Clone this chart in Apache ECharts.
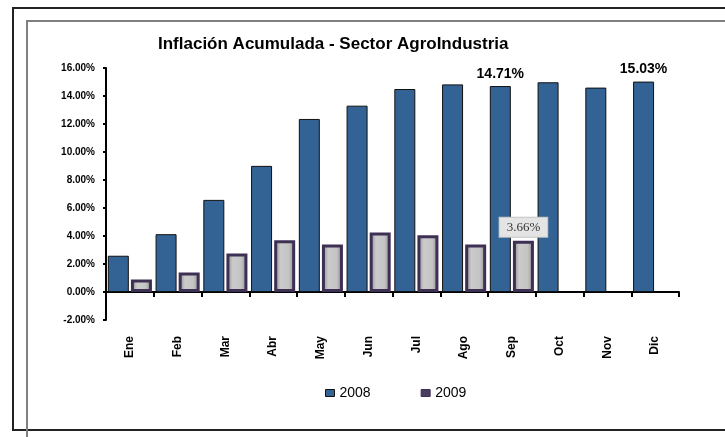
<!DOCTYPE html>
<html>
<head>
<meta charset="utf-8">
<script src="https://cdn.jsdelivr.net/npm/echarts@6/dist/echarts.min.js"></script>
<style>
  html, body { margin: 0; padding: 0; background: #fff; }
  #chart { width: 725px; height: 437px; }
</style>
</head>
<body>
<div id="chart"></div>
<script>
const months = ['Ene', 'Feb', 'Mar', 'Abr', 'May', 'Jun', 'Jul', 'Ago', 'Sep', 'Oct', 'Nov', 'Dic'];
const values2008 = [2.59, 4.13, 6.58, 9.01, 12.36, 13.31, 14.5, 14.83, 14.71, 14.98, 14.6, 15.03];
const values2009 = [0.9, 1.4, 2.75, 3.7, 3.4, 4.25, 4.05, 3.4, 3.66];
const labeled2008 = [8, 11];   // indexes that carry a bold value label
const labeled2009 = [8];

const fontFamily = 'Arial, "Liberation Sans", sans-serif';

let myChart = echarts.init(document.getElementById('chart'));

let data2008 = values2008.map((v, i) => {
  if (labeled2008.indexOf(i) < 0) return v;
  return {
    value: v,
    label: {
      show: true,
      position: 'top',
      distance: 5,
      formatter: p => p.value.toFixed(2) + '%',
      color: '#000',
      fontWeight: 'bold',
      fontSize: 14,
      fontFamily: fontFamily
    }
  };
});

let data2009 = values2009.map((v, i) => {
  if (labeled2009.indexOf(i) < 0) return v;
  return {
    value: v,
    label: {
      show: true,
      position: 'top',
      distance: 4,
      formatter: p => p.value.toFixed(2) + '%',
      color: '#333',
      fontSize: 13,
      fontFamily: '"Liberation Serif", "DejaVu Serif", serif',
      backgroundColor: '#e4e4e4',
      borderColor: '#c4c4c4',
      borderWidth: 1,
      padding: [3, 7]
    }
  };
});

let option = {
  animation: false,
  backgroundColor: '#fff',
  textStyle: { fontFamily: fontFamily },
  title: {
    text: 'Inflación Acumulada - Sector AgroIndustria',
    left: 153,
    top: 31,
    textStyle: {
      fontSize: 17,
      fontWeight: 'bold',
      color: '#000',
      fontFamily: fontFamily
    }
  },
  legend: {
    left: 320,
    top: 381,
    itemWidth: 9,
    itemHeight: 7,
    itemGap: 50,
    icon: 'rect',
    textStyle: { fontSize: 14, color: '#000', fontFamily: fontFamily },
    data: [
      { name: '2008', itemStyle: { color: '#336394', borderColor: '#111', borderWidth: 1 } },
      { name: '2009', itemStyle: { color: '#4b3c62', borderColor: '#3e2f55', borderWidth: 1 } }
    ]
  },
  grid: {
    left: 106,
    right: 46,
    top: 68,
    bottom: 117
  },
  xAxis: {
    type: 'category',
    data: months,
    axisLine: { onZero: true, lineStyle: { color: '#000', width: 2 } },
    axisTick: { show: true, length: 5, lineStyle: { color: '#000', width: 2 } },
    axisLabel: {
      rotate: 90,
      margin: 16,
      color: '#000',
      fontWeight: 'bold',
      fontSize: 12,
      fontFamily: fontFamily
    }
  },
  yAxis: {
    type: 'value',
    min: -2,
    max: 16,
    interval: 2,
    splitLine: { show: false },
    axisLine: { show: true, lineStyle: { color: '#000', width: 2 } },
    axisTick: { show: true, length: 3, lineStyle: { color: '#000', width: 2 } },
    axisLabel: {
      margin: 11,
      color: '#000',
      fontWeight: 'bold',
      fontSize: 10,
      fontFamily: fontFamily,
      formatter: v => v.toFixed(2) + '%'
    }
  },
  series: [
    {
      name: '2008',
      type: 'bar',
      barWidth: 21,
      barGap: '10%',
      itemStyle: {
        color: '#336394',
        borderColor: '#111',
        borderWidth: 1
      },
      data: data2008
    },
    {
      name: '2009',
      type: 'bar',
      barWidth: 21,
      itemStyle: {
        color: new echarts.graphic.LinearGradient(0, 0, 1, 0, [
          { offset: 0, color: '#858585' },
          { offset: 0.3, color: '#cbcbcb' },
          { offset: 0.7, color: '#c4c4c4' },
          { offset: 1, color: '#8a8a8a' }
        ]),
        borderColor: '#3e2f55',
        borderWidth: 3
      },
      data: data2009
    }
  ],
  graphic: [
    {
      type: 'rect',
      silent: true,
      shape: { x: 13, y: 8, width: 800, height: 422 },
      style: { fill: 'none', stroke: '#222', lineWidth: 2 }
    },
    {
      type: 'rect',
      silent: true,
      shape: { x: 27, y: 21, width: 800, height: 500 },
      style: { fill: 'none', stroke: '#808080', lineWidth: 2 }
    }
  ]
};

myChart.setOption(option);
</script>
</body>
</html>
